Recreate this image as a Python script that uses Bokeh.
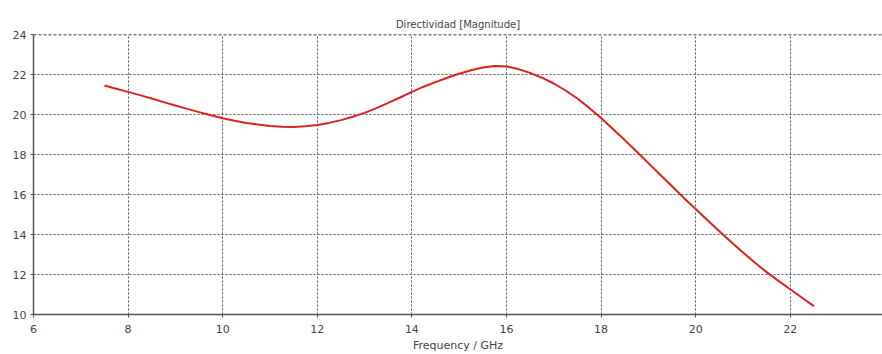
from bokeh.plotting import figure
from bokeh.models import Span, Range1d, FixedTicker
from bokeh.embed import file_html
from bokeh.resources import INLINE

# Data
freq_ghz = [7.5, 7.75, 8.0, 8.25, 8.5, 8.75, 9.0, 9.25, 9.5, 9.75, 10.0, 10.25, 10.5,
            10.75, 11.0, 11.25, 11.5, 11.75, 12.0, 12.25, 12.5, 12.75, 13.0, 13.25,
            13.5, 13.75, 14.0, 14.25, 14.5, 14.75, 15.0, 15.25, 15.5, 15.75, 16.0,
            16.25, 16.5, 16.75, 17.0, 17.25, 17.5, 17.75, 18.0, 18.25, 18.5, 18.75,
            19.0, 19.25, 19.5, 19.75, 20.0, 20.25, 20.5, 20.75, 21.0, 21.25, 21.5,
            21.75, 22.0, 22.25, 22.5]
directivity = [21.45, 21.29, 21.13, 20.97, 20.80, 20.62, 20.45, 20.28, 20.12, 19.96,
               19.81, 19.69, 19.58, 19.50, 19.43, 19.39, 19.38, 19.41, 19.48, 19.58,
               19.72, 19.89, 20.08, 20.32, 20.58, 20.85, 21.13, 21.39, 21.62, 21.84,
               22.04, 22.21, 22.35, 22.43, 22.40, 22.27, 22.08, 21.84, 21.55, 21.20,
               20.80, 20.33, 19.82, 19.27, 18.72, 18.15, 17.57, 16.99, 16.41, 15.83,
               15.27, 14.71, 14.16, 13.62, 13.10, 12.60, 12.12, 11.68, 11.26, 10.84,
               10.42]
x_ticks = [6, 8, 10, 12, 14, 16, 18, 20, 22, 24]
y_ticks = [10, 12, 14, 16, 18, 20, 22, 24]

title_text = "Directividad [Magnitude]"
x_label = "Frequency / GHz"

FONT = "DejaVu Sans"

p = figure(width=882, height=354, output_backend="svg", toolbar_location=None,
           x_range=Range1d(6, 23.95), y_range=Range1d(10, 24),
           min_border_left=33, min_border_right=0, min_border_top=34,
           min_border_bottom=38, title=title_text)

p.title.align = "center"
p.title.text_font = FONT
p.title.text_font_size = "10px"
p.title.text_font_style = "normal"
p.title.text_color = "#444444"

p.outline_line_color = None
p.background_fill_color = "white"
p.border_fill_color = "white"

for ax in (p.xaxis[0], p.yaxis[0]):
    ax.axis_line_color = "#555555"
    ax.axis_line_width = 1.5
    ax.major_tick_line_color = "#555555"
    ax.major_tick_out = 3
    ax.major_tick_in = 0
    ax.minor_tick_line_color = None
    ax.major_label_text_font = FONT
    ax.major_label_text_font_size = "11px"
    ax.major_label_text_color = "#444444"

p.xaxis[0].ticker = FixedTicker(ticks=x_ticks)
p.yaxis[0].ticker = FixedTicker(ticks=y_ticks)
p.xaxis[0].major_label_standoff = 7
p.yaxis[0].major_label_standoff = 4
p.xaxis[0].axis_label = x_label
p.xaxis[0].axis_label_text_font = FONT
p.xaxis[0].axis_label_text_font_size = "11px"
p.xaxis[0].axis_label_text_font_style = "normal"
p.xaxis[0].axis_label_text_color = "#444444"
p.xaxis[0].axis_label_standoff = 3

for g in (p.xgrid[0], p.ygrid[0]):
    g.grid_line_color = "#555555"
    g.grid_line_dash = "2 2"
    g.grid_line_width = 1

top = Span(location=24, dimension="width", line_color="black",
           line_dash="3 2", line_width=1.5)
p.add_layout(top)

p.line(freq_ghz, directivity, line_color="#dd2222", line_width=2)

open("out.html", "w").write(file_html(p, INLINE))
